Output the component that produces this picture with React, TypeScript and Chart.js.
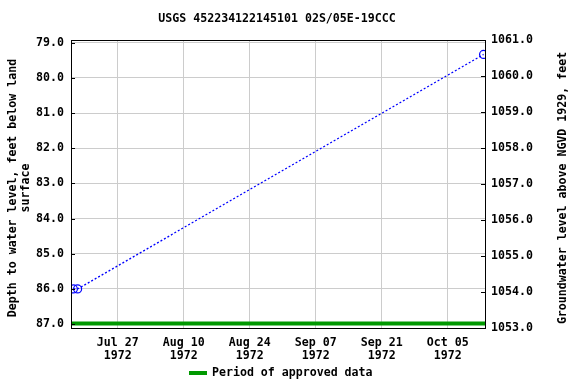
import React, { useEffect, useRef } from "react";
import { Chart, registerables } from "chart.js";

Chart.register(...registerables);

const titleText = "USGS 452234122145101 02S/05E-19CCC";
const leftTitleLines = ["Depth to water level, feet below land", "surface"];
const rightTitleText = "Groundwater level above NGVD 1929, feet";
const legendText = "Period of approved data";

// x values: days since 1972-07-01 (Jul 1 = 0)
const tickDays = [26, 40, 54, 68, 82, 96];
const tickMonthDay = ["Jul 27", "Aug 10", "Aug 24", "Sep 07", "Sep 21", "Oct 05"];
const tickYear = "1972";

const obsDays = [16.6, 17.5, 103.6];
const obsDepth = [86.0, 86.0, 79.33];

const approvedDays = [16.1, 103.9];
const approvedDepth = [86.98, 86.98];

const xMin = 16.1;
const xMax = 103.9;
const depthMin = 78.92;
const depthMax = 87.11;
const elevMin = 1053.0;
const elevMax = 1061.0;

const FONT = "'DejaVu Sans Mono', monospace";
const FS = 11.6;

const overlayPlugin = {
  id: "overlay",
  afterDraw(chart: any) {
    const ctx = chart.ctx;
    const a = chart.chartArea;
    ctx.save();
    // frame
    ctx.strokeStyle = "#000";
    ctx.lineWidth = 1;
    ctx.strokeRect(Math.round(a.left) + 0.5, Math.round(a.top) + 0.5, Math.round(a.right - a.left), Math.round(a.bottom - a.top));
    // inward ticks
    const yr = chart.scales.yRight;
    yr.ticks.forEach((t: any) => {
      const py = Math.round(yr.getPixelForValue(t.value)) + 0.5;
      ctx.beginPath();
      ctx.moveTo(a.right - 4, py);
      ctx.lineTo(a.right, py);
      ctx.stroke();
    });
    const yl = chart.scales.y;
    yl.ticks.forEach((t: any) => {
      const py = Math.round(yl.getPixelForValue(t.value)) + 0.5;
      ctx.beginPath();
      ctx.moveTo(a.left, py);
      ctx.lineTo(a.left + 4, py);
      ctx.stroke();
    });
    ctx.fillStyle = "#000";
    ctx.font = `bold ${FS}px ${FONT}`;
    // title
    ctx.textAlign = "center";
    ctx.textBaseline = "middle";
    ctx.fillText(titleText, 277, 19);
    // left title
    ctx.save();
    ctx.translate(13, 188);
    ctx.rotate(-Math.PI / 2);
    ctx.fillText(leftTitleLines[0], 0, 0);
    ctx.fillText(leftTitleLines[1], 0, 13);
    ctx.restore();
    // right title
    ctx.save();
    ctx.translate(563, 188);
    ctx.rotate(-Math.PI / 2);
    ctx.fillText(rightTitleText, 0, 0);
    ctx.restore();
    // legend
    ctx.strokeStyle = "#009900";
    ctx.lineWidth = 4;
    ctx.beginPath();
    ctx.moveTo(189, 373);
    ctx.lineTo(207, 373);
    ctx.stroke();
    ctx.textAlign = "left";
    ctx.fillText(legendText, 212, 373);
    ctx.restore();
  },
};

export default function App() {
  const ref = useRef<HTMLCanvasElement>(null);
  useEffect(() => {
    document.body.style.margin = "0";
    const chart = new Chart(ref.current as HTMLCanvasElement, {
      type: "line",
      data: {
        datasets: [
          {
            label: "approved",
            data: approvedDays.map((d, i) => ({ x: d, y: approvedDepth[i] })),
            borderColor: "#009900",
            borderWidth: 4,
            pointRadius: 0,
            yAxisID: "y",
          },
          {
            label: "depth",
            data: obsDays.map((d, i) => ({ x: d, y: obsDepth[i] })),
            borderColor: "#0000ff",
            borderWidth: 1.3,
            borderDash: [2, 2],
            pointStyle: "circle",
            pointRadius: 4,
            pointBorderWidth: 1.2,
            pointBorderColor: "#0000ff",
            pointBackgroundColor: "rgba(0,0,0,0)",
            yAxisID: "y",
          },
        ],
      },
      options: {
        animation: false,
        responsive: false,
        layout: { padding: { top: 40, left: 0, right: 0, bottom: 0 } },
        plugins: { legend: { display: false }, title: { display: false }, tooltip: { enabled: false } },
        scales: {
          x: {
            type: "linear",
            min: xMin,
            max: xMax,
            afterBuildTicks: (s: any) => {
              s.ticks = tickDays.map((v) => ({ value: v }));
            },
            afterFit: (s: any) => {
              s.height = 56;
            },
            ticks: {
              autoSkip: false,
              maxRotation: 0,
              padding: 8,
              color: "#000",
              font: { family: FONT, size: FS, weight: "bold", lineHeight: 1.13 },
              callback: (v: any) => {
                const i = tickDays.indexOf(Number(v));
                return i >= 0 ? [tickMonthDay[i], tickYear] : "";
              },
            },
            grid: { color: "#cccccc", drawTicks: false, lineWidth: 1 },
            border: { display: false },
          },
          y: {
            type: "linear",
            position: "left",
            reverse: true,
            min: depthMin,
            max: depthMax,
            afterFit: (s: any) => {
              s.width = 71;
            },
            ticks: {
              stepSize: 1,
              includeBounds: false,
              padding: 7,
              color: "#000",
              font: { family: FONT, size: FS, weight: "bold" },
              callback: (v: any) => Number(v).toFixed(1),
            },
            grid: { color: "#cccccc", drawTicks: false, lineWidth: 1 },
            border: { display: false },
          },
          yRight: {
            type: "linear",
            position: "right",
            min: elevMin,
            max: elevMax,
            afterFit: (s: any) => {
              s.width = 91;
            },
            ticks: {
              stepSize: 1,
              includeBounds: false,
              padding: 6,
              color: "#000",
              font: { family: FONT, size: FS, weight: "bold" },
              callback: (v: any) => Number(v).toFixed(1),
            },
            grid: { display: false, drawTicks: false },
            border: { display: false },
          },
        },
      } as any,
      plugins: [overlayPlugin],
    });
    return () => chart.destroy();
  }, []);
  return (
    <div style={{ position: "absolute", left: 0, top: 0, width: 576, height: 384 }}>
      <canvas ref={ref} width={576} height={384} />
    </div>
  );
}
